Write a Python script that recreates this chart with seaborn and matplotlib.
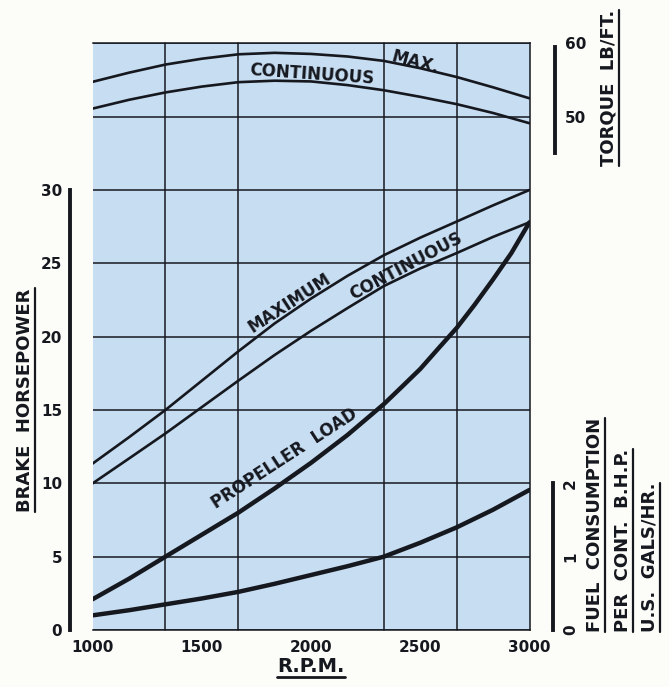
import numpy as np
import pandas as pd
import matplotlib
matplotlib.use("Agg")
import matplotlib.pyplot as plt
import seaborn as sns
from matplotlib.lines import Line2D

# ---------------- data ----------------
rpm = [1000, 1167, 1333, 1500, 1667, 1833, 2000, 2167, 2333, 2500, 2667, 2833, 3000]
bhp_max = [11.35, 13.15, 15.0, 17.0, 19.0, 20.9, 22.6, 24.15, 25.55, 26.75, 27.85, 28.95, 30.0]
bhp_cont = [10.0, 11.7, 13.4, 15.2, 17.0, 18.75, 20.4, 21.95, 23.45, 24.65, 25.7, 26.8, 27.8]
fuel_gph = [0.2, 0.27, 0.35, 0.43, 0.52, 0.63, 0.75, 0.87, 1.0, 1.19, 1.4, 1.64, 1.91]
torque_max = [54.75, 56.0, 57.1, 57.9, 58.5, 58.7, 58.55, 58.2, 57.6, 56.6, 55.4, 54.0, 52.5]
torque_cont = [51.1, 52.3, 53.3, 54.1, 54.7, 54.9, 54.8, 54.3, 53.6, 52.7, 51.7, 50.5, 49.1]

rpm_prop = [1000, 1167, 1333, 1500, 1667, 1833, 2000, 2167, 2333, 2417, 2500,
            2583, 2667, 2750, 2833, 2917, 3000]
bhp_prop = [2.1, 3.5, 5.0, 6.5, 8.0, 9.65, 11.4, 13.3, 15.4, 16.6, 17.8,
            19.2, 20.6, 22.2, 23.9, 25.7, 27.8]

rpm_ticks = [1000, 1500, 2000, 2500, 3000]
rpm_grid = [1000, 1333.33, 1666.67, 2000, 2333.33, 2666.67, 3000]
hp_grid = [0, 5, 10, 15, 20, 25, 30, 35, 40]
hp_labels = ["0", "5", "10", "15", "20", "25", "30", "", ""]
torque_ticks = [50, 60]
fuel_ticks = [0, 1, 2]
fuel_labels = ["0", "1", "2"]

# ---------------- style ----------------
sns.set_theme(style="white")
plt.rcParams["font.family"] = ["DejaVu Sans"]
plt.rcParams["font.weight"] = "bold"

INK = "#16181f"
BLUE = "#c7ddf1"
PAPER = "#fcfcf8"
W, H = 669, 687

fig = plt.figure(figsize=(W / 100, H / 100), dpi=100, facecolor=PAPER)
L, R, T, B = 92.7, 529.5, 43.3, 630.0
ax = fig.add_axes([L / W, 1 - B / H, (R - L) / W, (B - T) / H])
ax.set_facecolor(BLUE)
ax.set_xlim(1000, 3000)
ax.set_ylim(0, 40)

# grid
ax.set_xticks(rpm_ticks)
ax.set_xticklabels([str(v) for v in rpm_ticks])
ax.set_xticks(rpm_grid, minor=True)
ax.set_yticks(hp_grid)
ax.set_yticklabels(hp_labels)
ax.grid(False)
ax.grid(which="minor", axis="x", color=INK, lw=1.1)
ax.grid(which="major", axis="y", color=INK, lw=1.1)
for tk in ax.xaxis.get_minor_ticks() + ax.yaxis.get_major_ticks():
    tk.gridline.set_clip_on(False)

for s in ["top", "right", "bottom"]:
    ax.spines[s].set_visible(True)
    ax.spines[s].set_color(INK)
    ax.spines[s].set_linewidth(1.1)
ax.spines["left"].set_position(("outward", 16))
ax.spines["left"].set_bounds(0, 30)
ax.spines["left"].set_linewidth(2.8)
ax.spines["left"].set_color(INK)

ax.tick_params(axis="x", which="major", direction="in", length=4, width=1.3,
               color=INK, pad=7, labelsize=11, labelcolor=INK)
ax.tick_params(axis="x", which="minor", length=0)
ax.tick_params(axis="y", length=0, pad=6, labelsize=11, labelcolor=INK)

# torque axis
ax_t = ax.twinx()
ax_t.set_ylim(-20, 60)
ax_t.patch.set_visible(False)
for s in ["left", "top", "bottom"]:
    ax_t.spines[s].set_visible(False)
ax_t.spines["right"].set_position(("outward", 18.4))
ax_t.spines["right"].set_bounds(45, 59.5)
ax_t.spines["right"].set_linewidth(2.8)
ax_t.spines["right"].set_color(INK)
ax_t.set_yticks(torque_ticks)
ax_t.set_yticklabels([str(v) for v in torque_ticks])
ax_t.tick_params(axis="y", length=0, pad=7, labelsize=11, labelcolor=INK)
ax_t.grid(False)

# fuel axis
ax_f = ax.twinx()
ax_f.set_ylim(0, 8)
ax_f.patch.set_visible(False)
for s in ["left", "top", "bottom"]:
    ax_f.spines[s].set_visible(False)
ax_f.spines["right"].set_position(("outward", 17))
ax_f.spines["right"].set_bounds(0, 2)
ax_f.spines["right"].set_linewidth(2.8)
ax_f.spines["right"].set_color(INK)
ax_f.set_yticks(fuel_ticks)
ax_f.set_yticklabels(fuel_labels)
ax_f.tick_params(axis="y", length=0, pad=7, labelsize=11, labelcolor=INK)
for lbl in ax_f.get_yticklabels():
    lbl.set_rotation(90)
    lbl.set_va("center")
ax_f.grid(False)

# ---------------- curves ----------------
line_kw = dict(color=INK, solid_joinstyle="round", solid_capstyle="round")
sns.lineplot(x=rpm, y=bhp_max, ax=ax, lw=1.9, **line_kw)
sns.lineplot(x=rpm, y=bhp_cont, ax=ax, lw=1.9, **line_kw)
sns.lineplot(x=rpm_prop, y=bhp_prop, ax=ax, lw=3.2, **line_kw)
sns.lineplot(x=rpm, y=torque_max, ax=ax_t, lw=1.9, **line_kw)
sns.lineplot(x=rpm, y=torque_cont, ax=ax_t, lw=1.9, **line_kw)
sns.lineplot(x=rpm, y=fuel_gph, ax=ax_f, lw=3.2, **line_kw)
for a in (ax, ax_t, ax_f):
    a.set_xlabel("")
    a.set_ylabel("")
ax.set_xlim(1000, 3000)

# curve labels
lab = dict(color=INK, fontsize=12, fontweight="bold", ha="center", va="center",
           rotation_mode="anchor")
ax.text(2476, 38.7, "MAX.", rotation=-15, **lab)
ax.text(2005, 37.9, "CONTINUOUS", rotation=-4, **lab)
ax.text(1900, 22.3, "MAXIMUM", rotation=33, **lab)
ax.text(2434, 24.8, "CONTINUOUS", rotation=28, **lab)
ax.text(1880, 11.7, "PROPELLER  LOAD", rotation=33, **lab)

# ---------------- axis titles ----------------
def ftext(x, y, s, **kw):
    return fig.text(x / W, 1 - y / H, s, color=INK, fontweight="bold", **kw)

t_hp = ftext(25, 400, "BRAKE  HORSEPOWER", rotation=90, ha="center", va="center", fontsize=13)
t_rpm = ftext(311, 667, "R.P.M.", ha="center", va="center", fontsize=14)
t_tq = ftext(609, 88, "TORQUE  LB/FT.", rotation=90, ha="center", va="center", fontsize=13)
t_f1 = ftext(595, 632, "FUEL  CONSUMPTION", rotation=90, ha="center", va="bottom", fontsize=13)
t_f2 = ftext(623, 632, "PER  CONT.  B.H.P.", rotation=90, ha="center", va="bottom", fontsize=13)
t_f3 = ftext(650, 632, "U.S.  GALS/HR.", rotation=90, ha="center", va="bottom", fontsize=13)

fig.canvas.draw()
renderer = fig.canvas.get_renderer()
inv = fig.transFigure.inverted()


def underline(t, where, gap=1.0, lw=1.6):
    bb = t.get_window_extent(renderer)
    if where == "right":
        x = bb.x1 + gap
        pts = [(x, bb.y0), (x, bb.y1)]
    else:
        y = bb.y0 - gap
        pts = [(bb.x0, y), (bb.x1, y)]
    (fx0, fy0), (fx1, fy1) = inv.transform(pts)
    fig.add_artist(Line2D([fx0, fx1], [fy0, fy1], transform=fig.transFigure,
                          color=INK, lw=lw))


underline(t_hp, "right")
underline(t_rpm, "bottom", gap=0.5, lw=2.0)
underline(t_tq, "right")
underline(t_f1, "right")
underline(t_f2, "right")
underline(t_f3, "right")

fig.savefig("out.png", dpi=100, facecolor=PAPER)
